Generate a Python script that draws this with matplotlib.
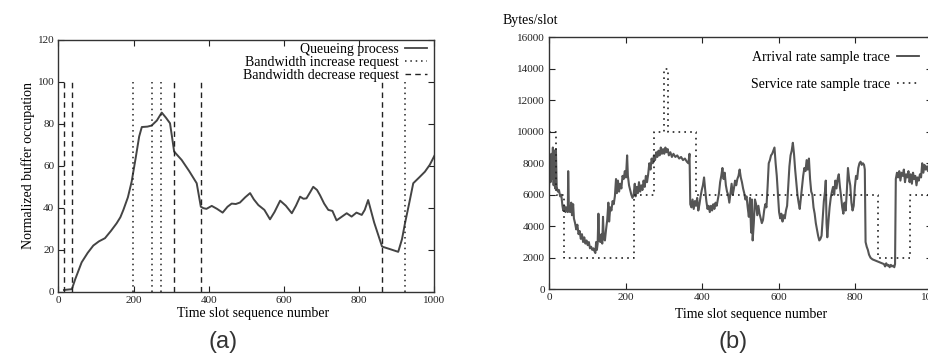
import matplotlib
matplotlib.use("Agg")
import matplotlib.pyplot as plt
from matplotlib.lines import Line2D

plt.rcParams['font.family'] = ['Liberation Serif', 'DejaVu Serif']

# ---- panel (a): queue occupation and bandwidth requests ----
queue_x = [15, 25, 36, 45, 62, 78, 93, 108, 124, 140, 155, 165, 173, 185, 195,
           205, 215, 222, 237, 248, 262, 275, 286, 297, 303, 308, 328, 348, 368,
           379, 386, 394, 408, 422, 437, 450, 461, 472, 483, 497, 510, 520, 532,
           548, 563, 575, 590, 605, 621, 632, 643, 652, 660, 670, 678, 688, 696,
           707, 718, 729, 740, 752, 767, 780, 793, 807, 815, 824, 840, 861, 882,
           904, 914, 922, 933, 944, 960, 975, 988, 1000]
queue_y = [0.8, 1.0, 1.2, 6, 14, 18.5, 22, 24, 25.5, 29, 32.6, 35.5, 39, 45, 52.5,
           63, 74, 78.5, 78.7, 79.2, 81.6, 85.4, 83, 80.3, 73, 66.8, 62.8, 57.5, 51.7,
           40.5, 39.8, 39.5, 40.9, 39.5, 37.7, 40.5, 42, 41.8, 42.5, 45, 47, 44, 41.3,
           39, 34.5, 38, 43.4, 41, 37.4, 41, 45.3, 44.3, 44.5, 47.5, 50, 48.5, 46,
           42, 39, 38.5, 34, 35.5, 37.4, 35.8, 37.7, 36.6, 39, 43.7, 33, 21.5, 20.3,
           19, 25, 32.6, 42, 51.7, 54.5, 57.2, 60.5, 64.7]
increase_x = [198, 249, 274, 921]
decrease_x = [15, 36, 308, 380, 861]

# ---- panel (b): arrival and service rate traces ----
arrival_t = [0, 2, 4, 6, 8, 10, 12, 14, 16, 18, 20, 23, 26, 29, 32, 35, 37, 40, 43, 46, 49,
             50, 52, 55, 58, 60, 63, 65, 68, 71, 74, 77, 80, 83, 86, 89, 92, 95, 98, 101,
             104, 107, 110, 113, 116, 119, 121, 123, 125, 127, 129, 131, 134, 137, 139,
             141, 143, 146, 149, 152, 155, 157, 160, 163, 166, 169, 172, 175, 177, 180,
             183, 186, 189, 192, 195, 198, 201, 204, 206, 209, 212, 215, 218, 221, 224,
             226, 229, 232, 235, 238, 241, 244, 247, 250, 253, 256, 259, 262, 265, 268,
             271, 274, 277, 280, 283, 286, 289, 292, 295, 298, 301, 304, 307, 310, 313,
             317, 321, 325, 330, 335, 340, 345, 350, 355, 360, 364, 367, 369, 372, 375,
             378, 381, 384, 387, 390, 393, 396, 399, 402, 405, 408, 411, 414, 417, 420,
             423, 426, 429, 432, 435, 438, 441, 444, 447, 450, 453, 456, 459, 462, 465,
             468, 471, 474, 477, 480, 483, 486, 489, 492, 495, 498, 501, 504, 507, 510,
             513, 516, 519, 522, 525, 528, 530, 532, 535, 538, 541, 544, 547, 550, 553,
             556, 559, 562, 565, 568, 571, 574, 577, 580, 583, 586, 589, 592, 595, 598,
             601, 604, 607, 610, 613, 616, 619, 622, 625, 628, 631, 634, 637, 640, 643,
             646, 649, 652, 655, 658, 661, 664, 667, 670, 673, 676, 679, 682, 685, 688,
             691, 694, 697, 700, 703, 706, 709, 712, 715, 718, 721, 723, 725, 727, 730,
             733, 736, 739, 742, 745, 748, 751, 754, 757, 760, 763, 766, 769, 772, 775,
             778, 781, 784, 787, 790, 793, 796, 799, 802, 805, 808, 811, 814, 817, 820,
             823, 825, 827, 830, 833, 836, 840, 845, 850, 855, 860, 865, 870, 875, 878,
             881, 884, 887, 890, 893, 896, 899, 902, 904, 906, 909, 912, 915, 918, 921,
             924, 927, 930, 933, 936, 939, 942, 945, 948, 951, 954, 957, 960, 963, 966,
             969, 972, 975, 978, 981, 984, 987, 990, 993, 996, 1000]
arrival_v = [6500, 8000, 6800, 8600, 7000, 9000, 6600, 8800, 6400, 8900, 6500, 6200, 6300, 5900, 6000, 5300, 5000, 5300, 4900, 5200, 4900,
             7500, 5000, 4900, 5500, 4700, 5400, 4500, 4200, 3800, 4100, 3500, 3700, 3200, 3500, 3000, 3300, 2900, 3100, 2800,
             3000, 2600, 2700, 2500, 2600, 2400, 2300, 3000, 2500, 2900, 4800, 3100, 3000, 3500, 2900,
             4600, 3200, 3100, 3800, 4400, 5500, 4300, 5200, 5000, 5600, 5400, 5900, 7000, 6100, 6900,
             6200, 6700, 6400, 7200, 7000, 7500, 7100, 8500, 7200, 6600, 6300, 6000, 5800, 6000, 6700,
             5900, 6500, 6100, 6800, 6200, 6600, 6300, 6900, 6500, 7200, 6800, 7300, 8000, 7600, 8300,
             8000, 8500, 8200, 8700, 8400, 8800, 8500, 9000, 8600, 8900, 8600, 9000, 8700, 8900, 8500,
             8700, 8400, 8600, 8400, 8500, 8300, 8400, 8200, 8300, 8100, 8000, 8600, 5400, 5200, 5700,
             5100, 5600, 5300, 5800, 5000, 5400, 5900, 6300, 6600, 7100, 6300, 5600, 5100, 5300, 4900,
             5300, 5000, 5400, 5100, 5500, 5300, 5700, 6100, 6800, 7200, 7700, 7000, 7400, 6600, 6200,
             6000, 5500, 6100, 6700, 6000, 6400, 6900, 6600, 7000, 7200, 7600, 7100, 6800, 6400, 6100,
             5700, 5900, 5200, 4600, 5800, 3600, 5700, 3100, 4200, 5700, 5400, 4700, 5300, 4800, 4500,
             4200, 4400, 5000, 5400, 5200, 6500, 8000, 8200, 8500, 8600, 8800, 9000, 8000, 7200, 6000,
             4900, 4500, 4800, 4300, 4700, 4500, 5000, 5300, 6500, 7800, 8500, 8800, 9300, 8600, 7600,
             6800, 6000, 5500, 5100, 5800, 6500, 7200, 7700, 7500, 8200, 7600, 8300, 7000, 6200, 6000,
             5200, 4800, 4200, 3800, 3400, 3100, 3200, 3400, 4500, 5600, 6200, 6900, 4200, 3300, 4300,
             5200, 5800, 6200, 6500, 6000, 6900, 6400, 7000, 7300, 6500, 5900, 5200, 4800, 5500, 5000,
             6200, 7700, 7000, 6600, 5500, 5000, 5300, 6500, 7200, 7000, 7700, 8000, 8100, 7900, 8000,
             7900, 7600, 3000, 2700, 2500, 2200, 2000, 1900, 1850, 1800, 1750, 1700, 1650, 1600, 1450,
             1650, 1500, 1550, 1400, 1550, 1450, 1500, 1400, 1600, 7000, 7400, 7100, 7500, 6900, 7400,
             7200, 7600, 6800, 7300, 7100, 7500, 6800, 7300, 6700, 7400, 7000, 7200, 6600, 7100, 6900,
             7300, 7100, 8000, 7400, 7900, 7600, 7800, 7500, 8000, 7700, 7900]
service_t = [0, 18, 40, 222, 275, 300, 311, 385, 860, 942, 1000]
service_v = [10000, 6000, 2000, 6000, 10000, 14000, 10000, 6000, 2000, 6000, 6000]

fig = plt.figure(figsize=(9.29, 3.53), dpi=100)

def style_axes(ax):
    for s in ax.spines.values():
        s.set_color('#333333')
        s.set_linewidth(1.0)
    ax.tick_params(direction='in', length=4, width=0.8, labelsize=8,
                   top=True, right=True, pad=3, colors='#222222')

# (a)
ax1 = fig.add_axes([0.0628, 0.1737, 0.4047, 0.713])
ax1.plot(queue_x, queue_y, color='#444444', lw=1.4)
ax1.vlines(increase_x, 0, 100, colors='#222222', linestyles=(0, (1, 2.5)), lw=1.1)
ax1.vlines(decrease_x, 0, 100, colors='#222222', linestyles=(0, (4, 3)), lw=1.0)
ax1.set_xlim(0, 1000)
ax1.set_ylim(0, 120)
ax1.set_xticks([0, 200, 400, 600, 800, 1000])
ax1.set_yticks([0, 20, 40, 60, 80, 100, 120])
style_axes(ax1)
ax1.set_ylabel('Normalized buffer occupation', fontsize=10, labelpad=2)
handles1 = [Line2D([], [], color='#444444', lw=1.3),
            Line2D([], [], color='#222222', ls=(0, (1, 2.5)), lw=1.1),
            Line2D([], [], color='#222222', ls=(0, (4, 3)), lw=1.0)]
ax1.legend(handles1, ['Queueing process', 'Bandwidth increase request',
                      'Bandwidth decrease request'],
           loc='upper right', markerfirst=False, frameon=False, fontsize=10,
           handlelength=1.6, handletextpad=0.4, labelspacing=0.0,
           borderaxespad=0.0, bbox_to_anchor=(0.995, 1.01))
fig.text(0.272, 0.113, 'Time slot sequence number', ha='center', va='center', fontsize=10)
fig.text(0.240, 0.03, '(a)', ha='center', va='center', fontsize=17,
         family=['Liberation Sans', 'DejaVu Sans'], color='#333333')

# (b)
ax2 = fig.add_axes([0.591, 0.1805, 0.412, 0.714])
ax2.plot(arrival_t, arrival_v, color='#555555', lw=1.5)
ax2.plot(service_t, service_v, color='#222222', lw=1.2, ls=(0, (1, 2.5)),
         drawstyle='steps-post')
ax2.set_xlim(0, 1000)
ax2.set_ylim(0, 16000)
ax2.set_xticks([0, 200, 400, 600, 800, 1000])
ax2.set_yticks(range(0, 16001, 2000))
style_axes(ax2)
handles2 = [Line2D([], [], color='#444444', lw=1.3),
            Line2D([], [], color='#222222', ls=(0, (1, 2.5)), lw=1.2)]
ax2.legend(handles2, ['Arrival rate sample trace', 'Service rate sample trace'],
           loc='upper right', markerfirst=False, frameon=False, fontsize=10,
           handlelength=1.6, handletextpad=0.5, labelspacing=1.0,
           bbox_to_anchor=(1.0, 0.995))
fig.text(0.571, 0.943, 'Bytes/slot', ha='center', va='center', fontsize=10)
fig.text(0.809, 0.108, 'Time slot sequence number', ha='center', va='center', fontsize=10)
fig.text(0.789, 0.03, '(b)', ha='center', va='center', fontsize=17,
         family=['Liberation Sans', 'DejaVu Sans'], color='#333333')

fig.savefig('out.png', dpi=100)
